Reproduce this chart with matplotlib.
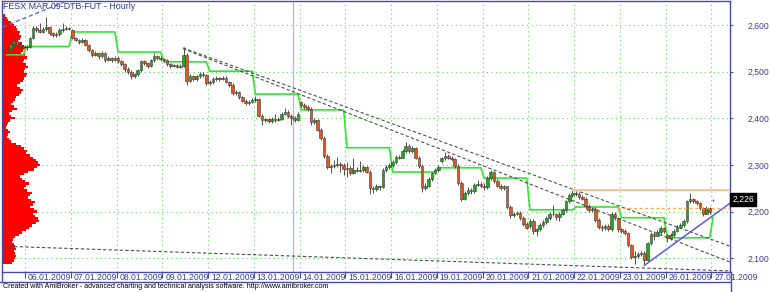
import matplotlib
matplotlib.use('Agg')
import matplotlib.pyplot as plt
import matplotlib.transforms as mtransforms
from matplotlib.lines import Line2D
from matplotlib.patches import Rectangle

plt.rcParams['font.family'] = ['Liberation Sans', 'DejaVu Sans']

title = "FESX MAR 09-DTB-FUT - Hourly"
footer = ("Created with AmiBroker - advanced charting and technical analysis "
          "software. http://www.amibroker.com")

day_labels = ["05.01.2009", "06.01.2009", "07.01.2009", "08.01.2009", "09.01.2009",
              "12.01.2009", "13.01.2009", "14.01.2009", "15.01.2009", "16.01.2009",
              "19.01.2009", "20.01.2009", "21.01.2009", "22.01.2009", "23.01.2009",
              "26.01.2009", "27.01.2009"]
bars_per_day = [6, 14, 14, 14, 14, 14, 14, 14, 14, 14, 14, 14, 14, 14, 14, 14, 1]

opens = [
    2544, 2548, 2560, 2566, 2558, 2555,
    2552, 2552, 2572, 2594, 2590, 2586, 2592, 2596, 2582, 2578, 2580, 2590, 2592, 2594,
    2590, 2572, 2568, 2564, 2568, 2557, 2546, 2536, 2540, 2533, 2541, 2525, 2529, 2525,
    2530, 2522, 2516, 2505, 2500, 2490, 2494, 2503, 2522, 2518, 2512, 2524, 2533, 2530,
    2527, 2525, 2516, 2512, 2514, 2511, 2513, 2536, 2480, 2490, 2484, 2490, 2496, 2492,
    2476, 2478, 2484, 2486, 2485, 2487, 2478, 2472, 2454, 2457, 2445, 2438, 2432, 2436,
    2440, 2442, 2406, 2396, 2398, 2394, 2398, 2396, 2399, 2410, 2414, 2405, 2400, 2396,
    2434, 2428, 2424, 2420, 2392, 2396, 2376, 2358, 2320, 2296, 2298, 2300, 2302, 2300,
    2292, 2294, 2282, 2290, 2288, 2290, 2295, 2286, 2250, 2248, 2254, 2252, 2290, 2296,
    2300, 2306, 2318, 2316, 2330, 2340, 2330, 2336, 2316, 2298, 2250, 2256, 2270, 2282,
    2290, 2308, 2314, 2320, 2316, 2312, 2298, 2262, 2228, 2240, 2246, 2244, 2258, 2260,
    2256, 2252, 2272, 2285, 2266, 2256, 2250, 2254, 2210, 2192, 2196, 2198, 2186, 2174,
    2170, 2180, 2158, 2162, 2172, 2178, 2186, 2196, 2194, 2188, 2196, 2204, 2222, 2236,
    2240, 2238, 2232, 2228, 2212, 2204, 2206, 2182, 2168, 2164, 2170, 2162, 2196, 2186,
    2162, 2158, 2154, 2128, 2102, 2104, 2110, 2112, 2096, 2132, 2152, 2148, 2156, 2164,
    2150, 2144, 2150, 2158, 2168, 2172, 2180, 2222, 2228, 2222, 2218, 2208, 2196, 2208,
    2224,
]
highs = [
    2552, 2563, 2570, 2568, 2560, 2558,
    2558, 2575, 2597, 2598, 2604, 2596, 2617, 2598, 2586, 2584, 2594, 2604, 2598, 2596,
    2592, 2575, 2571, 2572, 2570, 2560, 2549, 2544, 2543, 2545, 2543, 2533, 2532, 2533,
    2533, 2526, 2519, 2509, 2503, 2497, 2506, 2526, 2525, 2521, 2528, 2540, 2536, 2533,
    2530, 2527, 2519, 2517, 2516, 2516, 2553, 2540, 2494, 2493, 2493, 2499, 2499, 2494,
    2483, 2488, 2490, 2489, 2490, 2490, 2481, 2475, 2460, 2459, 2448, 2441, 2440, 2444,
    2447, 2444, 2409, 2401, 2401, 2403, 2410, 2403, 2413, 2422, 2418, 2409, 2404, 2414,
    2437, 2433, 2428, 2424, 2400, 2399, 2380, 2362, 2324, 2302, 2310, 2318, 2306, 2304,
    2306, 2298, 2314, 2296, 2308, 2300, 2298, 2290, 2256, 2260, 2258, 2294, 2300, 2304,
    2310, 2322, 2322, 2334, 2350, 2344, 2340, 2338, 2320, 2302, 2262, 2274, 2286, 2294,
    2300, 2318, 2328, 2324, 2320, 2315, 2302, 2266, 2244, 2252, 2250, 2262, 2268, 2263,
    2262, 2276, 2290, 2288, 2270, 2260, 2258, 2256, 2214, 2200, 2202, 2202, 2190, 2178,
    2184, 2184, 2166, 2176, 2182, 2190, 2200, 2214, 2198, 2200, 2208, 2226, 2240, 2246,
    2244, 2242, 2236, 2232, 2216, 2210, 2209, 2186, 2172, 2174, 2174, 2200, 2200, 2188,
    2166, 2162, 2156, 2130, 2116, 2114, 2116, 2116, 2136, 2156, 2158, 2160, 2170, 2168,
    2152, 2154, 2162, 2172, 2176, 2184, 2226, 2240, 2230, 2224, 2220, 2210, 2212, 2210,
    2228,
]
lows = [
    2540, 2545, 2556, 2554, 2550, 2548,
    2546, 2550, 2570, 2586, 2582, 2583, 2588, 2578, 2574, 2575, 2577, 2586, 2589, 2590,
    2570, 2565, 2560, 2561, 2554, 2543, 2532, 2533, 2528, 2530, 2520, 2522, 2520, 2522,
    2518, 2512, 2500, 2496, 2484, 2486, 2490, 2500, 2514, 2508, 2510, 2521, 2526, 2523,
    2521, 2513, 2508, 2509, 2508, 2508, 2510, 2471, 2477, 2480, 2480, 2486, 2488, 2472,
    2471, 2474, 2481, 2481, 2482, 2475, 2468, 2450, 2450, 2441, 2434, 2428, 2429, 2432,
    2436, 2402, 2386, 2392, 2390, 2391, 2392, 2394, 2396, 2407, 2401, 2385, 2392, 2394,
    2425, 2420, 2416, 2386, 2388, 2372, 2354, 2316, 2292, 2282, 2294, 2296, 2286, 2278,
    2274, 2278, 2280, 2284, 2284, 2286, 2282, 2238, 2240, 2244, 2246, 2250, 2286, 2292,
    2296, 2302, 2312, 2314, 2326, 2326, 2326, 2312, 2294, 2242, 2246, 2252, 2266, 2280,
    2286, 2305, 2310, 2312, 2308, 2294, 2258, 2222, 2224, 2236, 2238, 2240, 2254, 2250,
    2246, 2248, 2268, 2262, 2252, 2246, 2246, 2206, 2186, 2188, 2192, 2182, 2170, 2162,
    2166, 2152, 2148, 2158, 2168, 2174, 2182, 2190, 2182, 2180, 2192, 2200, 2218, 2232,
    2234, 2228, 2224, 2206, 2200, 2200, 2178, 2162, 2158, 2160, 2158, 2158, 2182, 2156,
    2154, 2150, 2124, 2098, 2088, 2100, 2106, 2085, 2094, 2128, 2140, 2150, 2150, 2154,
    2136, 2140, 2146, 2156, 2164, 2168, 2176, 2218, 2218, 2214, 2204, 2190, 2194, 2196,
    2222,
]
closes = [
    2548, 2560, 2566, 2558, 2555, 2552,
    2552, 2572, 2594, 2590, 2586, 2592, 2596, 2582, 2578, 2580, 2590, 2592, 2594, 2592,
    2572, 2568, 2564, 2568, 2557, 2546, 2536, 2540, 2533, 2541, 2525, 2529, 2525, 2530,
    2522, 2516, 2505, 2500, 2490, 2494, 2503, 2522, 2518, 2512, 2524, 2533, 2530, 2527,
    2525, 2516, 2512, 2514, 2511, 2513, 2536, 2480, 2490, 2484, 2490, 2496, 2492, 2476,
    2478, 2484, 2486, 2485, 2487, 2478, 2472, 2454, 2457, 2445, 2438, 2432, 2436, 2440,
    2442, 2406, 2396, 2398, 2394, 2398, 2396, 2399, 2410, 2414, 2405, 2400, 2396, 2410,
    2428, 2424, 2420, 2392, 2396, 2376, 2358, 2320, 2296, 2298, 2300, 2302, 2300, 2292,
    2294, 2282, 2290, 2288, 2290, 2295, 2286, 2250, 2248, 2254, 2252, 2290, 2296, 2300,
    2306, 2318, 2316, 2330, 2340, 2330, 2336, 2316, 2298, 2250, 2256, 2270, 2282, 2290,
    2296, 2314, 2320, 2316, 2312, 2298, 2262, 2228, 2240, 2246, 2244, 2258, 2260, 2256,
    2252, 2272, 2285, 2266, 2256, 2250, 2254, 2210, 2192, 2196, 2198, 2186, 2174, 2166,
    2180, 2158, 2162, 2172, 2178, 2186, 2196, 2194, 2188, 2196, 2204, 2222, 2236, 2240,
    2238, 2232, 2228, 2212, 2204, 2206, 2182, 2168, 2164, 2170, 2162, 2196, 2186, 2162,
    2158, 2154, 2128, 2102, 2104, 2110, 2112, 2096, 2132, 2152, 2148, 2156, 2164, 2158,
    2144, 2150, 2158, 2168, 2172, 2180, 2222, 2228, 2222, 2218, 2208, 2196, 2208, 2200,
    2226,
]

# daily stop level (green stepped line)
daily_level = [2536, 2554, 2585, 2542, 2521, 2501, 2452, 2418, 2337, 2285,
               2294, 2272, 2204, 2210, 2187, 2144, 2187]

# volume-at-price profile (price bins, relative volume)
profile_prices = [2620, 2615, 2610, 2605, 2600, 2595, 2590, 2585, 2580, 2575,
                  2570, 2565, 2560, 2555, 2550, 2545, 2540, 2535, 2530, 2525,
                  2520, 2515, 2510, 2505, 2500, 2495, 2490, 2485, 2480, 2475,
                  2470, 2465, 2460, 2455, 2450, 2445, 2440, 2435, 2430, 2425,
                  2420, 2415, 2410, 2405, 2400, 2395, 2390, 2385, 2380, 2375,
                  2370, 2365, 2360, 2355, 2350, 2345, 2340, 2335, 2330, 2325,
                  2320, 2315, 2310, 2305, 2300, 2295, 2290, 2285, 2280, 2275,
                  2270, 2265, 2260, 2255, 2250, 2245, 2240, 2235, 2230, 2225,
                  2220, 2215, 2210, 2205, 2200, 2195, 2190, 2185, 2180, 2175,
                  2170, 2165, 2160, 2155, 2150, 2145, 2140, 2135, 2130, 2125,
                  2120, 2115, 2110, 2105, 2100, 2095, 2090]
profile_vol = [3, 5, 6, 9, 12, 14, 15, 18, 17, 19,
               18, 16, 20, 22, 24, 21, 19, 23, 25, 22,
               21, 24, 26, 23, 22, 25, 24, 22, 21, 18,
               15, 18, 21, 19, 17, 14, 13, 11, 9, 12,
               15, 10, 7, 9, 13, 8, 6, 5, 4, 6,
               8, 6, 5, 7, 9, 14, 19, 22, 25, 24,
               28, 31, 34, 36, 38, 35, 32, 26, 22, 18,
               20, 23, 27, 24, 22, 25, 30, 28, 26, 29,
               33, 31, 28, 32, 35, 31, 33, 36, 37, 34,
               30, 27, 24, 20, 17, 13, 11, 10, 12, 13,
               14, 12, 13, 14, 13, 12, 10]

y_ticks = [2100, 2200, 2300, 2400, 2500, 2600]
last_price = 2226

# trend lines: (bar0, price0, bar1, price1)
tl_top_blue = (-1.2, 2596, 19.5, 2655)
tl_down1 = (53.85, 2551, 221.2, 2126)
tl_down2 = (53.85, 2549, 221.2, 2092)
tl_bottom = (-1.2, 2126, 221.2, 2073)
tl_support = (195.0, 2085, 221.2, 2218)
resist_solid = (173.2, 221.2, 2247)
resist_dashed = (186.6, 221.2, 2208)
cursor_bar = 87.5

# ---------------------------------------------------------------
W, H = 770, 292
fig = plt.figure(figsize=(W / 100, H / 100), dpi=100)
fig.patch.set_facecolor('white')
ax = fig.add_axes([2 / W, 1 - 272 / H, 728 / W, 271 / H])
ax.set_facecolor('white')

n = len(closes)
xlim = (-1.54, 221.2)
ylim = (2070.7, 2651.4)
ax.set_xlim(*xlim)
ax.set_ylim(*ylim)

axis_col = '#4a4aa6'
text_col = '#3c3c9a'
grid_col = '#5ad85a'

# day separators
seps = []
pos = 0
for nb in bars_per_day[:-1]:
    pos += nb
    seps.append(pos - 0.5)

for s in seps:
    ax.axvline(s, color=grid_col, lw=0.8, ls=(0, (1, 3)), zorder=0)
for t in y_ticks:
    ax.axhline(t, color=grid_col, lw=0.8, ls=(0, (1, 3)), zorder=0)

# cursor line
ax.axvline(cursor_bar, color='#b4b4ee', lw=0.9, zorder=1)

# volume profile (step shape)
px_per_bar = 728 / (xlim[1] - xlim[0])
maxv = max(profile_vol)
ys, xs = [], []
for p, v in zip(profile_prices, profile_vol):
    w = xlim[0] + v / maxv * 38 / px_per_bar
    ys += [p + 2.5, p - 2.5]
    xs += [w, w]
ax.fill_betweenx(ys, xlim[0], xs, color='#ff0000', lw=0, zorder=1)

# green stepped line
lvl = []
for nb, lv in zip(bars_per_day, daily_level):
    lvl += [lv] * nb
ax.plot(range(n), lvl, color='#2ee82e', lw=1.2, zorder=3)

# candles
for i in range(n):
    o, h, l, c = opens[i], highs[i], lows[i], closes[i]
    hi = max(h, o, c)
    lo = min(l, o, c)
    ax.plot([i, i], [lo, hi], color='#505050', lw=0.7, zorder=4,
            solid_capstyle='butt')
    if c > o:
        fc = '#1fa81f'
    elif c < o:
        fc = '#e0561c'
    else:
        fc = None
    if fc is None:
        ax.plot([i - 0.4, i + 0.4], [c, c], color='#303030', lw=0.8, zorder=5)
    else:
        ax.add_patch(Rectangle((i - 0.4, min(o, c)), 0.8, abs(c - o),
                               facecolor=fc, edgecolor='#3a3a3a', lw=0.4,
                               zorder=5))

# trend lines
def seg(t, **kw):
    ax.plot([t[0], t[2]], [t[1], t[3]], **kw)

dash = (0, (3, 2))
seg(tl_top_blue, color='#6868e6', lw=1.0, ls=dash, zorder=6)
seg(tl_down1, color='#505050', lw=0.8, ls=dash, zorder=6)
seg(tl_down2, color='#505050', lw=0.8, ls=dash, zorder=6)
seg(tl_bottom, color='#505050', lw=0.8, ls=dash, zorder=6)
seg(tl_support, color='#5a5ae6', lw=1.1, zorder=6)
ax.plot([resist_solid[0], resist_solid[1]], [resist_solid[2]] * 2,
        color='#ffc28c', lw=1.4, zorder=6)
ax.plot([resist_dashed[0], resist_dashed[1]], [resist_dashed[2]] * 2,
        color='#ffa54a', lw=1.0, ls=(0, (2, 2)), zorder=6)

# spines
for sp in ax.spines.values():
    sp.set_color(axis_col)
    sp.set_linewidth(1.0)

# y axis on right
ax.yaxis.tick_right()
ax.set_yticks(y_ticks)
ax.set_yticklabels([f"{t:,}" for t in y_ticks])
ax.tick_params(axis='y', colors=axis_col, labelcolor=text_col, labelsize=6.2,
               length=2.2, width=0.8, pad=10.6)

# x axis: custom
ax.set_xticks(seps)
ax.set_xticklabels([])
ax.tick_params(axis='x', colors=axis_col, length=4.5, width=0.8, direction='out')
trans = mtransforms.blended_transform_factory(ax.transData, ax.transAxes)
for s, lab in zip(seps, day_labels[1:]):
    ax.text(s + 0.9, -0.019, lab, transform=trans, ha='left', va='center',
            fontsize=6.2, color=text_col, clip_on=False)

# last price label
ax.text(1.003, last_price, f"{last_price:,}",
        transform=mtransforms.blended_transform_factory(ax.transAxes, ax.transData),
        ha='left', va='center', fontsize=6.2, color='white', clip_on=False,
        bbox=dict(boxstyle='square,pad=0.2', facecolor='black', edgecolor='black'),
        zorder=10)

# title
ax.text(0.002, 0.995, title, transform=ax.transAxes, ha='left', va='top',
        fontsize=6.4, color='#2e3c82', zorder=10)

# bottom band line and footer
fig.add_artist(Line2D([0, 730 / W], [1 - 282 / H] * 2, color=axis_col, lw=1.0))
fig.add_artist(Line2D([730.5 / W] * 2, [1 - 291 / H, 1 - 272 / H], color=axis_col, lw=1.0))
fig.add_artist(Line2D([1.5 / W] * 2, [1 - 282 / H, 1 - 272 / H], color=axis_col, lw=1.0))
fig.text(3 / W, 1 - 287 / H, footer, ha='left', va='center', fontsize=5.1,
         color='black')

fig.savefig('out.png', dpi=100, facecolor='white')
